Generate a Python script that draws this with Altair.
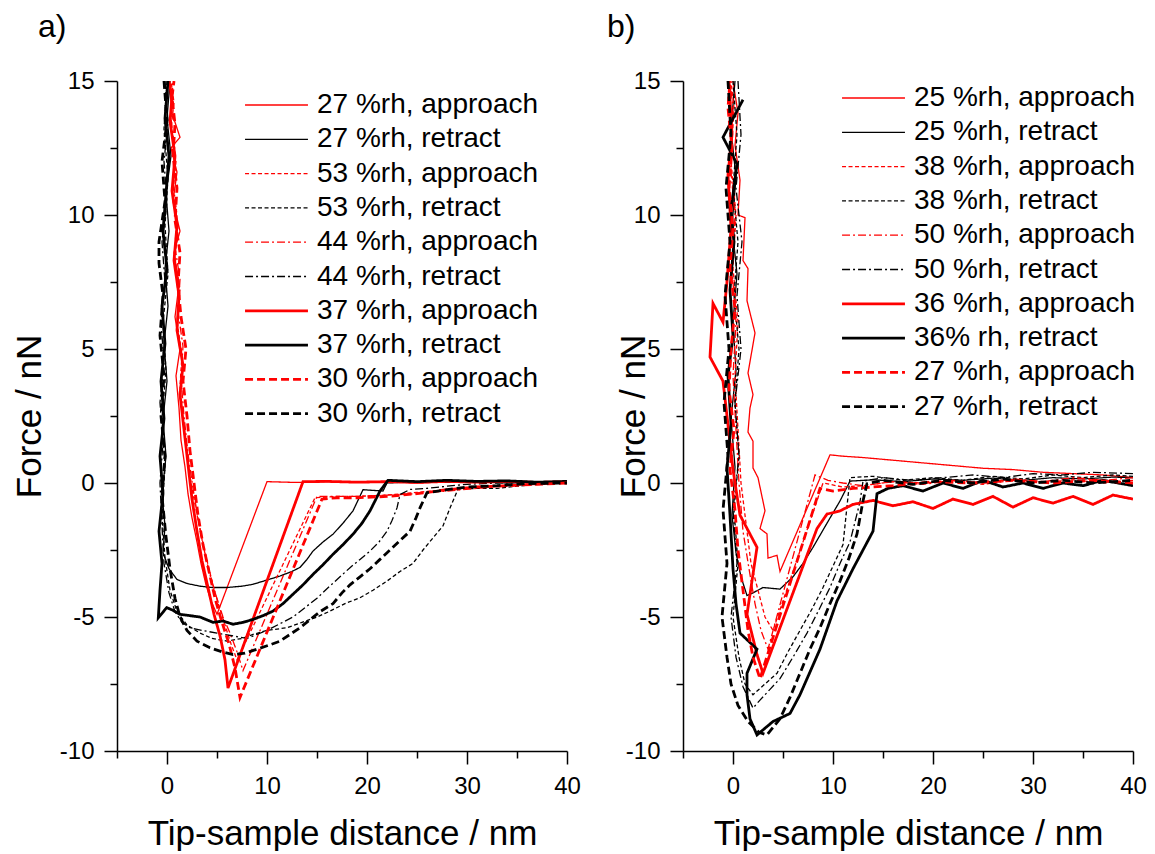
import altair as alt
import pandas as pd

FONT = "Liberation Sans"

X_DOMAIN = [-5, 40]
Y_DOMAIN = [-10, 15]
X_TICKS = [-5, 0, 5, 10, 15, 20, 25, 30, 35, 40]
Y_TICKS = [-10, -7.5, -5, -2.5, 0, 2.5, 5, 7.5, 10, 12.5, 15]

# ---------------- panel a ----------------
A_NAMES = ["27 %rh, approach", "27 %rh, retract", "53 %rh, approach", "53 %rh, retract",
           "44 %rh, approach", "44 %rh, retract", "37 %rh, approach", "37 %rh, retract",
           "30 %rh, approach", "30 %rh, retract"]

A_27_APP = [(40,0.03),(37,0.0),(34,0.05),(31,0.02),(28,0.05),(25,0.0),(22,0.05),(19,0.02),(16,0.05),(13,0.02),(10.0,0.05),
            (5.0,-4.9),(4.4,-4.4),(3.9,-3.8),(3.4,-3.0),(3.0,-2.2),(2.5,-1.3),(2.1,-0.4),(1.8,0.6),(1.4,1.6),(1.2,2.8),(0.9,4.0),
            (1.3,5.0),(0.8,6.2),(1.2,7.4),(0.7,8.6),(1.3,9.4),(0.6,10.5),(1.0,11.6),(0.4,12.5),(1.3,12.9),(0.5,13.8),(0.2,15.0)]
A_27_RET = [(0.3,15.0),(0.0,13.6),(0.4,12.2),(-0.1,10.8),(0.2,9.4),(-0.2,8.0),(0.1,6.6),(-0.3,5.2),(0.0,3.8),(-0.4,2.4),(-0.1,1.0),
            (-0.5,-0.4),(-0.2,-1.6),(-0.4,-2.6),(0.2,-3.2),(1.0,-3.6),(2.0,-3.75),(3.3,-3.85),(4.5,-3.9),(6.0,-3.9),(7.5,-3.85),
            (8.6,-3.78),(10.0,-3.62),(11.3,-3.47),(12.5,-3.3),(13.3,-3.15),(14.0,-2.85),(14.6,-2.54),(15.6,-2.2),(16.6,-1.91),
            (17.6,-1.5),(18.6,-1.04),(19.6,-0.25),(21.6,-0.3),(22.0,0.0),(25,0.05),(28,0.02),(31,0.05),(34,0.0),(37,0.05),(40,0.0)]
A_53_APP = [(40,0.0),(37,-0.05),(34,-0.1),(31,-0.15),(28,-0.25),(25,-0.35),(22,-0.45),(19,-0.5),(17,-0.5),(14.8,-0.55),
            (7.0,-6.6),(6.4,-6.0),(5.8,-5.3),(5.2,-4.6),(4.6,-3.8),(4.0,-2.9),(3.4,-1.9),(2.9,-1.0),(2.4,0.0),(2.0,1.0),(1.6,2.3),
            (1.3,3.6),(1.5,4.8),(1.0,6.0),(1.3,7.2),(0.8,8.4),(1.1,9.6),(0.6,10.8),(0.9,12.0),(0.4,13.2),(0.7,14.2),(0.4,15.0)]
A_53_RET = [(0.0,15.0),(-0.3,13.2),(0.1,11.4),(-0.2,9.6),(0.1,7.8),(-0.4,6.0),(-0.1,4.2),(-0.5,2.4),(-0.2,0.6),(-0.5,-1.2),
            (-0.2,-2.8),(0.3,-4.0),(1.0,-4.8),(2.0,-5.3),(3.3,-5.6),(4.5,-5.8),(6.0,-5.9),(7.5,-5.8),(8.6,-5.65),(10.0,-5.5),
            (12.0,-5.4),(13.5,-5.2),(15.0,-5.0),(16.3,-4.78),(17.8,-4.5),(19.3,-4.28),(20.6,-4.0),(22.0,-3.66),(23.3,-3.3),
            (24.6,-3.0),(25.6,-2.5),(26.6,-2.05),(27.6,-1.6),(28.3,-0.93),(29.1,-0.23),(31,-0.2),(33,-0.2),(35,-0.12),(37,-0.05),(40,0.0)]
A_44_APP = [(40,0.02),(37,-0.05),(34,-0.1),(31,-0.2),(28,-0.3),(25,-0.4),(22,-0.45),(19,-0.5),(17,-0.5),(15.0,-0.5),
            (7.6,-7.0),(7.0,-6.3),(6.3,-5.6),(5.6,-5.0),(4.9,-4.2),(4.2,-3.3),(3.6,-2.3),(3.1,-1.3),(2.6,-0.2),(2.1,1.1),(1.7,2.5),
            (1.4,3.9),(1.6,5.1),(1.1,6.4),(1.3,7.6),(0.8,8.8),(1.0,10.0),(0.6,11.2),(0.8,12.4),(0.4,13.6),(0.6,15.0)]
A_44_RET = [(-0.2,15.0),(0.1,13.5),(-0.3,12.0),(0.0,10.5),(-0.5,9.0),(-0.2,7.5),(-0.6,6.0),(-0.3,4.5),(-0.7,3.0),(-0.4,1.5),
            (-0.7,0.0),(-0.5,-1.6),(-0.3,-3.0),(0.2,-4.1),(0.8,-4.8),(1.5,-5.2),(2.3,-5.4),(3.5,-5.5),(5.0,-5.6),(6.5,-5.7),
            (8.0,-5.8),(9.0,-5.65),(10.0,-5.5),(11.3,-5.25),(12.6,-5.0),(13.8,-4.65),(15.0,-4.3),(16.3,-3.84),(17.3,-3.5),
            (18.3,-3.16),(19.3,-2.85),(20.3,-2.54),(21.2,-2.2),(22.0,-1.8),(22.5,-1.4),(23.0,-0.93),(23.3,-0.43),(24.3,-0.24),
            (26,-0.2),(28,-0.12),(30,-0.05),(33,0.0),(36,0.02),(40,0.05)]
A_37_APP = [(40,0.05),(37,0.02),(34,0.06),(31,0.03),(28,0.06),(25,0.02),(22,0.05),(19,0.03),(16,0.06),(13.6,0.05),
            (6.1,-7.65),(5.8,-6.6),(5.3,-5.7),(4.7,-4.9),(4.1,-3.9),(3.5,-2.9),(3.0,-1.8),(2.5,-0.6),(2.1,0.7),(1.7,2.0),(1.3,3.3),
            (1.6,4.4),(1.0,5.7),(1.2,7.0),(0.7,8.3),(1.0,9.6),(0.5,10.9),(0.8,12.2),(0.3,13.5),(0.5,14.4),(0.2,15.0)]
A_37_RET = [(0.1,15.0),(-0.2,13.6),(0.2,12.2),(-0.1,10.8),(-0.4,9.4),(0.0,8.0),(-0.5,6.6),(-0.2,5.2),(-0.6,3.8),(-0.3,2.4),
            (-0.7,1.0),(-0.4,-0.4),(-0.8,-1.8),(-0.5,-3.0),(-0.7,-4.0),(-0.87,-5.03),(-0.03,-4.65),(0.6,-4.75),(1.3,-4.9),
            (2.3,-4.95),(3.3,-5.0),(4.6,-5.2),(5.6,-5.15),(6.6,-5.27),(7.6,-5.2),(8.6,-5.09),(9.6,-4.95),(10.6,-4.78),
            (11.6,-4.5),(12.6,-4.15),(13.6,-3.8),(14.6,-3.41),(15.6,-3.05),(16.6,-2.66),(17.6,-2.3),(18.6,-1.91),(19.5,-1.5),
            (20.3,-1.04),(21.3,-0.3),(22.1,0.1),(25,0.05),(28,0.1),(31,0.06),(34,0.08),(37,0.03),(40,0.06)]
A_30_APP = [(40,0.0),(37,-0.05),(34,-0.1),(31,-0.15),(28,-0.25),(25,-0.4),(22,-0.5),(19,-0.55),(17,-0.55),(15.5,-0.6),
            (7.3,-8.0),(6.8,-6.9),(6.2,-6.0),(5.5,-5.2),(4.8,-4.3),(4.2,-3.3),(3.6,-2.3),(3.1,-1.2),(2.7,0.0),(2.3,1.2),(2.0,2.5),
            (1.6,3.8),(1.9,5.0),(1.4,6.2),(1.1,7.4),(1.3,8.6),(0.8,9.8),(1.0,11.0),(0.6,12.2),(0.8,13.4),(0.5,14.4),(0.7,15.0)]
A_30_RET = [(-0.3,15.0),(0.0,13.5),(-0.5,12.0),(-0.2,10.5),(-0.8,9.0),(-0.8,8.2),(-0.4,7.0),(-0.7,5.5),(-0.3,4.0),(-0.6,2.5),
            (-0.2,1.0),(-0.5,-0.5),(-0.1,-2.0),(0.3,-3.2),(0.8,-4.3),(1.3,-5.0),(2.0,-5.5),(3.0,-5.9),(4.3,-6.15),(5.5,-6.3),
            (6.6,-6.4),(7.8,-6.35),(9.0,-6.2),(10.2,-6.05),(11.3,-5.9),(12.3,-5.65),(13.3,-5.4),(14.3,-5.1),(15.3,-4.8),
            (16.6,-4.5),(17.5,-4.1),(18.3,-3.8),(19.3,-3.5),(20.3,-3.2),(21.3,-2.85),(22.3,-2.5),(23.3,-2.15),(24.3,-1.8),
            (24.9,-1.3),(25.3,-0.93),(26.0,-0.36),(28,-0.25),(30,-0.15),(33,-0.1),(36,-0.02),(40,0.0)]
A_SERIES = [A_27_APP, A_27_RET, A_53_APP, A_53_RET, A_44_APP, A_44_RET, A_37_APP, A_37_RET, A_30_APP, A_30_RET]

# ---------------- panel b ----------------
B_NAMES = ["25 %rh, approach", "25 %rh, retract", "38 %rh, approach", "38 %rh, retract",
           "50 %rh, approach", "50 %rh, retract", "36 %rh, approach", "36% rh, retract",
           "27 %rh, approach", "27 %rh, retract"]

B_25_APP = [(40,0.2),(37,0.3),(34,0.35),(31,0.4),(28,0.5),(25,0.55),(22,0.65),(19,0.75),(16,0.85),(13,0.95),(11,1.0),(9.7,1.05),
            (4.7,-3.3),(4.4,-2.7),(3.5,-2.8),(3.4,-1.9),(2.7,-1.7),(3.2,-1.04),(2.5,0.2),(2.0,0.56),(2.0,1.56),(1.5,1.9),(1.7,2.8),
            (2.0,3.3),(1.5,4.1),(2.2,5.6),(1.4,6.8),(1.5,8.0),(1.0,8.3),(1.2,9.9),(0.5,10.0),(0.7,11.3),(0.2,12.6),(0.5,13.8),(0.0,15.0)]
B_25_RET = [(0.2,15.0),(-0.2,13.2),(0.3,11.4),(-0.1,9.6),(0.4,7.8),(0.0,6.0),(0.3,4.2),(-0.2,2.4),(0.2,0.6),(-0.1,-1.2),
            (0.3,-2.6),(0.8,-3.5),(1.4,-4.2),(2.0,-4.1),(3.0,-3.9),(4.7,-3.96),(6.0,-3.5),(7.0,-3.0),(8.0,-2.4),(9.4,-1.5),
            (10.7,-0.67),(11.7,0.07),(14,0.12),(17,0.05),(20,0.15),(23,0.1),(26,0.18),(29,0.1),(32,0.2),(35,0.15),(38,0.22),(40,0.2)]
B_38_APP = [(40,0.1),(37,0.0),(34,0.12),(31,0.02),(28,0.1),(25,-0.05),(22,0.08),(19,0.0),(16,0.05),(13,-0.1),(11,-0.15),(9.0,0.0),
            (4.0,-5.5),(3.2,-5.0),(2.5,-4.0),(1.8,-3.0),(1.3,-1.5),(0.8,0.0),(0.5,2.0),(0.2,4.0),(0.5,6.0),(0.0,8.0),(0.3,10.0),
            (-0.2,12.0),(0.1,14.0),(-0.2,15.0)]
B_38_RET = [(0.0,15.0),(0.4,13.0),(0.0,11.0),(0.5,9.0),(0.1,7.0),(0.6,5.0),(0.2,3.0),(0.6,1.0),(0.1,-1.0),(0.5,-3.0),(0.0,-5.0),
            (0.6,-6.5),(1.2,-7.5),(2.0,-7.9),(3.2,-7.5),(4.4,-7.1),(5.5,-6.3),(6.7,-5.5),(7.9,-4.7),(9.0,-3.9),(10.0,-3.1),
            (11.0,-2.3),(11.7,0.2),(14,0.25),(17,0.1),(20,0.2),(23,0.1),(26,0.25),(29,0.15),(32,0.3),(35,0.2),(38,0.3),(40,0.25)]
B_50_APP = [(40,0.2),(37,0.1),(34,0.2),(31,0.05),(28,0.15),(25,0.0),(22,0.1),(19,-0.05),(16,0.05),(13,-0.1),(11,0.0),(9.5,0.1),(8.2,0.3),
            (3.5,-6.2),(2.8,-5.5),(2.2,-4.5),(1.6,-3.2),(1.0,-1.8),(0.6,0.0),(0.3,2.0),(0.0,4.0),(0.3,6.0),(-0.1,8.0),(0.2,10.0),
            (-0.3,12.0),(0.0,14.0),(-0.3,15.0)]
B_50_RET = [(0.5,15.0),(0.8,13.0),(0.3,11.0),(0.9,9.0),(0.4,7.0),(0.8,5.0),(0.2,3.0),(0.6,1.0),(0.0,-1.0),(0.4,-3.0),(-0.2,-5.0),
            (0.3,-6.5),(1.0,-7.6),(2.0,-8.4),(2.7,-8.1),(3.7,-7.7),(4.7,-7.3),(6.0,-6.5),(7.4,-5.6),(8.5,-4.8),(9.7,-3.9),
            (10.7,-3.0),(11.7,-2.2),(12.7,-0.7),(13.0,0.07),(15,0.2),(18,0.1),(21,0.2),(24,0.3),(27,0.2),(30,0.35),(33,0.3),(36,0.4),(40,0.35)]
B_36_APP = [(40,-0.6),(38,-0.45),(36,-0.8),(34,-0.5),(32,-0.75),(30,-0.55),(28,-0.9),(26,-0.5),(24,-0.8),(22,-0.6),(20,-0.95),
            (18,-0.7),(16,-0.85),(14,-0.65),(12,-0.8),(10.7,-1.04),(9.4,-1.16),(8.4,-1.7),
            (3.0,-7.1),(2.4,-6.4),(1.4,-4.9),(2.4,-2.4),(0.7,-1.2),(0.0,0.5),(-0.6,2.5),(-1.0,3.8),(-2.3,4.7),(-2.0,6.7),(-1.0,6.0),
            (-0.6,7.5),(-0.2,9.5),(-0.5,11.5),(-0.1,13.0),(-0.4,15.0)]
B_36_RET = [(1.0,14.3),(-1.0,12.9),(0.4,11.9),(-0.2,10.2),(0.1,9.0),(-0.3,7.2),(0.0,5.5),(-0.5,4.0),(-0.2,2.2),(-0.6,0.56),
            (-0.3,-1.2),(0.0,-3.2),(0.3,-4.5),(0.7,-5.6),(2.4,-6.2),(1.4,-7.1),(1.4,-7.9),(1.7,-8.8),(2.4,-9.4),(4.0,-8.9),
            (5.7,-8.6),(6.7,-7.9),(8.7,-6.2),(10.4,-4.4),(12.0,-3.2),(14.0,-1.8),(14.4,-0.4),(15.5,-0.2),(17,-0.1),(19,-0.3),
            (21,0.0),(23,-0.2),(25,0.1),(27,-0.15),(29,0.0),(31,-0.2),(33,0.0),(35,-0.1),(37,0.1),(40,-0.1)]
B_27_APP = [(40,0.0),(36,0.1),(32,0.0),(28,0.1),(24,0.0),(20,0.05),(16,-0.1),(12,-0.2),(10,-0.3),(8.7,-0.2),
            (2.7,-7.3),(2.0,-6.5),(1.5,-5.5),(1.0,-4.0),(0.5,-2.5),(0.2,-1.0),(-0.3,0.5),(0.1,2.0),(-0.4,3.5),(-0.2,5.0),(0.2,6.5),
            (-0.3,8.0),(0.0,9.5),(-0.4,11.0),(-0.1,12.5),(-0.5,14.0),(-0.3,15.0)]
B_27_RET = [(-0.5,15.0),(-0.2,13.0),(-0.7,11.0),(-0.3,9.0),(-0.8,7.0),(-0.4,5.0),(-0.9,3.0),(-0.5,1.0),(-1.0,-1.0),(-0.6,-3.0),
            (-1.1,-5.0),(-0.6,-6.5),(-0.2,-7.5),(0.5,-8.3),(1.5,-8.9),(2.6,-9.3),(3.4,-9.4),(4.7,-8.8),(5.7,-8.0),(6.7,-7.1),
            (7.7,-6.2),(8.7,-5.4),(9.7,-4.5),(10.7,-3.66),(11.6,-2.8),(12.4,-1.9),(13.0,-0.67),(13.4,-0.03),(15,0.1),(18,-0.05),
            (21,0.1),(24,0.0),(27,0.15),(30,0.0),(33,0.1),(36,0.0),(40,0.1)]
B_SERIES = [B_25_APP, B_25_RET, B_38_APP, B_38_RET, B_50_APP, B_50_RET, B_36_APP, B_36_RET, B_27_APP, B_27_RET]

# styles (same sequence in both panels)
COLORS = ["#ff0000", "#000000"] * 5
DASHES = [[1, 0], [1, 0], [4, 2.5], [4, 2.5], [8, 3, 2, 3], [8, 3, 2, 3], [1, 0], [1, 0], [8, 4], [8, 4]]
WIDTHS = [1.3, 1.3, 1.3, 1.3, 1.3, 1.3, 2.8, 2.8, 2.8, 2.8]


def frame(names, series):
    rows = []
    for name, pts in zip(names, series):
        for i, (x, y) in enumerate(pts):
            rows.append({"series": name, "i": i, "x": x, "y": y})
    return pd.DataFrame(rows)


def make_panel(names, series, label, title_dx, legend_x, legend_y, ytitle_x):
    df = frame(names, series)
    leg = alt.Legend(title=None, orient="none", legendX=legend_x, legendY=legend_y,
                     symbolType="M-6,0H6", symbolSize=110, symbolOffset=17.5, labelOffset=26.5,
                     labelFont=FONT, labelFontSize=28, labelColor="black", rowPadding=6.3,
                     padding=0, symbolFillColor="transparent", labelLimit=400)
    xaxis = alt.Axis(values=X_TICKS, labelExpr="datum.value % 10 === 0 ? '' + datum.value : ''",
                     tickSize={"condition": {"test": "datum.value % 10 === 0", "value": 13}, "value": 7},
                     labelPadding=10, labelFlush=False, labelOverlap=False, grid=False,
                     title="Tip-sample distance / nm", titleY=93, titleBaseline="alphabetic")
    yaxis = alt.Axis(values=Y_TICKS, labelExpr="datum.value % 5 === 0 ? '' + datum.value : ''",
                     tickSize={"condition": {"test": "datum.value % 5 === 0", "value": 13}, "value": 7},
                     labelPadding=10, labelFlush=False, labelOverlap=False, grid=False,
                     title="Force / nN", titleX=ytitle_x, titleY=335, titleAngle=270,
                     titleAlign="center", titleBaseline="bottom")
    return alt.Chart(df, title=alt.Title(label, anchor="start", frame="group", dx=title_dx, offset=25,
                                         fontSize=32, font=FONT, fontWeight="normal", color="black")
                     ).mark_line(clip=True).encode(
        x=alt.X("x:Q", scale=alt.Scale(domain=X_DOMAIN, nice=False, zero=False), axis=xaxis),
        y=alt.Y("y:Q", scale=alt.Scale(domain=Y_DOMAIN, nice=False, zero=False), axis=yaxis),
        order=alt.Order("i:Q"),
        color=alt.Color("series:N", scale=alt.Scale(domain=names, range=COLORS), legend=leg),
        strokeDash=alt.StrokeDash("series:N", scale=alt.Scale(domain=names, range=DASHES), legend=leg),
        strokeWidth=alt.StrokeWidth("series:N", scale=alt.Scale(type="ordinal", domain=names, range=WIDTHS), legend=leg),
    ).properties(width=450, height=670)


pa = make_panel(A_NAMES, A_SERIES, "a)", -79, 128, 10, -70)
pb = make_panel(B_NAMES, B_SERIES, "b)", -76, 159, 3, -32)

chart = alt.hconcat(pa, pb, spacing=26).resolve_scale(
    color="independent", strokeDash="independent", strokeWidth="independent"
).resolve_legend(
    color="independent", strokeDash="independent", strokeWidth="independent"
).properties(
    padding={"left": 4, "top": 3, "right": 0, "bottom": 0}
).configure_view(stroke=None).configure_axis(
    labelFont=FONT, labelFontSize=24, labelColor="black",
    titleFont=FONT, titleFontSize=35, titleFontWeight="normal", titleColor="black",
    domainColor="black", domainWidth=1.5, tickColor="black", tickWidth=1.5
)

chart.save("out.html", embed_options={"renderer": "svg", "actions": False})
